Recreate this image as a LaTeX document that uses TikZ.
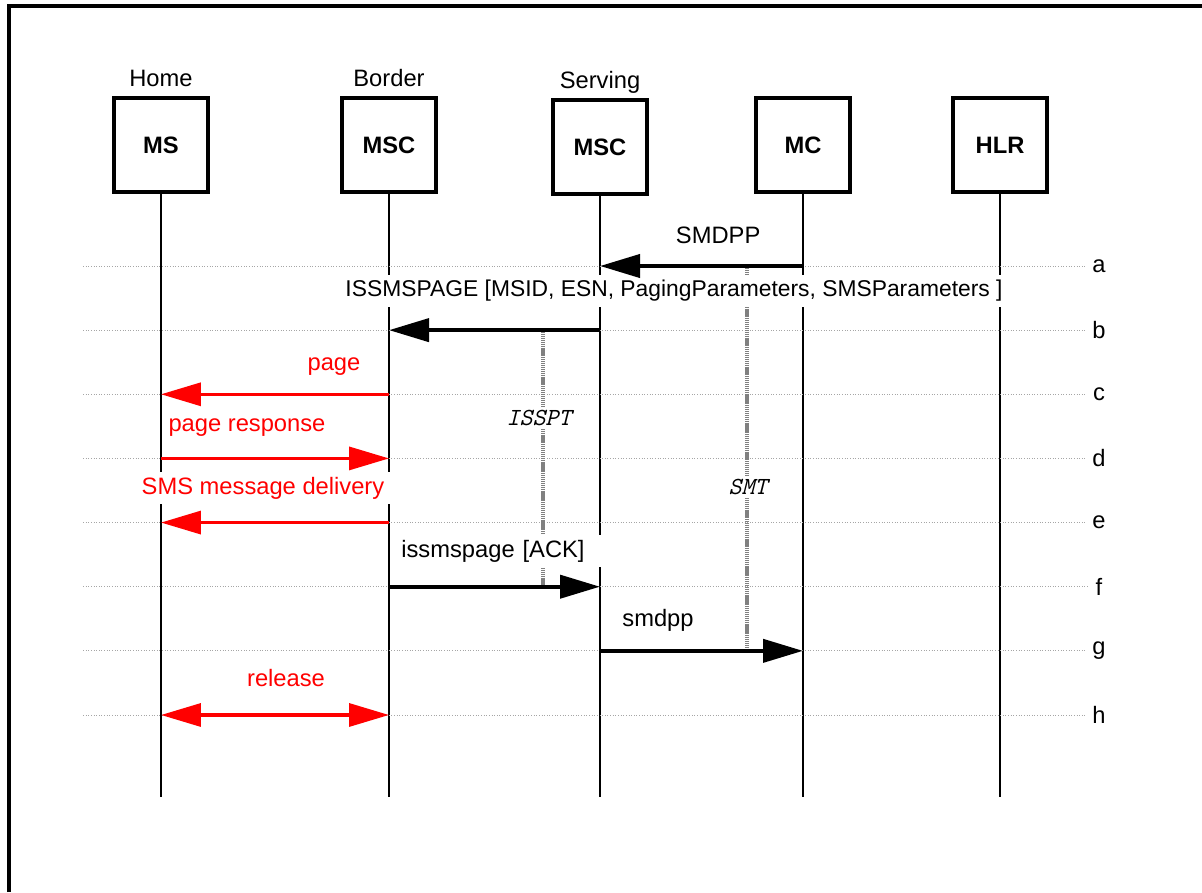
\documentclass[tikz,border=0pt]{standalone}
\usepackage{fontspec}
\setmainfont{Liberation Sans}
\usetikzlibrary{positioning, calc, arrows.meta}

\begin{document}
\begin{tikzpicture}[x=0.02cm, y=-0.02cm, font=\fontsize{13.5}{16}\selectfont,
  >={Triangle[length=0.8cm, width=0.46cm]},
  entity/.style={draw, line width=2pt, minimum size=1.88cm, inner sep=0pt, font=\fontsize{13.5}{16}\selectfont\bfseries},
  entitycap/.style={text depth=0pt},
  lifeline/.style={line width=0.6pt},
  stepline/.style={gray!70, line width=0.5pt, densely dotted},
  timer/.style={gray, line width=2pt, dash pattern=on 0.7pt off 0.4pt},
  timerlabel/.style={fill=white, inner sep=2pt, font=\fontsize{14}{16}\selectfont\ttfamily\itshape},
  msg/.style={line width=2.3pt, ->},
  rmsg/.style={msg, red, line width=1.9pt},
  mlabel/.style={fill=white, inner sep=3pt},
  rlabel/.style={mlabel, text=red}]
            \useasboundingbox (0,0) rectangle (1202,892);
            \draw[line width=2.2pt] (9,892) -- (9,6) -- (1202,6);
            % network entities
            \node[entity] (ms) at (161,145) {MS};
            \node[entity] (bmsc) at (389,145) {MSC};
            \node[entity] (smsc) at (600,147) {MSC};
            \node[entity] (mc) at (803,145) {MC};
            \node[entity] (hlr) at (1000,145) {HLR};
            \node[entitycap, above=2pt of ms] (home) {Home};
            \node[entitycap, above=2pt of bmsc] (border) {Border};
            \node[entitycap, above=2pt of smsc] (serving) {Serving};
            \coordinate (bottom) at (0,797);
            \foreach \e in {ms, bmsc, smsc, mc, hlr} {
                \draw[lifeline] (\e.south) -- (\e |- bottom);
            }
            % steps a..h
            \foreach \r [count=\i from 0] in {a, b, c, d, e, f, g, h} {
                \node (row\r) at (1099, 266+64.14*\i) {\r};
                \coordinate (start\r) at (83, 266+64.14*\i);
                \draw[stepline] (start\r) -- (row\r.west);
            }
            % timers
            \coordinate (isspt) at (543,0);
            \coordinate (smt) at (747,0);
            \draw[timer] (isspt |- rowb) -- (isspt |- rowf);
            \draw[timer] (smt |- rowa) -- (smt |- rowg);
            \node[timerlabel] (lisspt) at (539,418) {ISSPT};
            \node[timerlabel] (lsmt) at (748,487) {SMT};
            % messages
            \node[mlabel, anchor=base west, text width=2.46cm, align=right, inner xsep=0.7cm] (lsmdpp) at (602,243) {SMDPP};
            \node[mlabel, font=\fontsize{13}{16}\selectfont] (lissmspage) at (674,291) {ISSMSPAGE [MSID, ESN, PagingParameters, SMSParameters ]};
            \node[rlabel] (lpage) at (334,367) {page};
            \node[rlabel] (lresp) at (247,428) {page response};
            \node[rlabel] (ldeliv) at (263,488) {SMS message delivery};
            \node[mlabel, anchor=base west, text width=3.98cm, align=left, inner xsep=0.16cm] (lack) at (393,557) {issmspage [ACK]};
            \node[mlabel] (lsmdppr) at (658,620) {smdpp};
            \node[rlabel] (lrel) at (286,678) {release};
            \draw[msg] (mc |- rowa) -- (smsc |- rowa);
            \draw[msg] (smsc |- rowb) -- (bmsc |- rowb);
            \draw[rmsg] (bmsc |- rowc) -- (ms |- rowc);
            \draw[rmsg] (ms |- rowd) -- (bmsc |- rowd);
            \draw[rmsg] (bmsc |- rowe) -- (ms |- rowe);
            \draw[msg] (bmsc |- rowf) -- (smsc |- rowf);
            \draw[msg] (smsc |- rowg) -- (mc |- rowg);
            \draw[rmsg, <->] (ms |- rowh) -- (bmsc |- rowh);
        \end{tikzpicture}
\end{document}
